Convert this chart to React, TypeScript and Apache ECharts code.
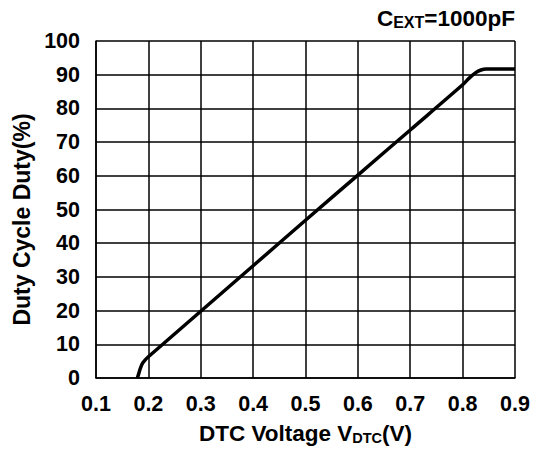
import React, { useEffect, useRef } from "react";
import * as echarts from "echarts";

const voltage = [0.179, 0.182, 0.185, 0.189, 0.194, 0.2, 0.3, 0.4, 0.5, 0.6, 0.7, 0.8, 0.812, 0.825, 0.835, 0.845, 0.86, 0.9];
const duty = [0, 1.5, 3.0, 4.4, 5.4, 6.3, 19.8, 33.3, 46.8, 60.2, 73.6, 87.0, 88.9, 90.6, 91.4, 91.7, 91.7, 91.7];
const xTicks = { min: 0.1, max: 0.9, interval: 0.1 };
const yTicks = { min: 0, max: 100, interval: 10 };

const FONT = "'Liberation Sans', Arial, sans-serif";

export default function App() {
  const ref = useRef<HTMLDivElement>(null);
  useEffect(() => {
    document.body.style.margin = "0";
    const chart = echarts.init(ref.current!, null, { renderer: "svg" });
    chart.setOption({
      animation: false,
      backgroundColor: "#ffffff",
      grid: { left: 96, right: 22, top: 41, bottom: 74 },
      graphic: [
        {
          type: "text",
          right: 22,
          top: 7,
          style: {
            text: "{a|C}{b|EXT}{a|=1000pF}",
            rich: {
              a: { fontFamily: FONT, fontWeight: "bold", fontSize: 22.5, fill: "#000", verticalAlign: "bottom" },
              b: { fontFamily: FONT, fontWeight: "bold", fontSize: 16, fill: "#000", verticalAlign: "bottom" },
            },
          },
        },
      ],
      xAxis: {
        type: "value",
        min: xTicks.min,
        max: xTicks.max,
        interval: xTicks.interval,
        name: "{a|DTC Voltage V}{b|DTC}{a|(V)}",
        nameLocation: "middle",
        nameGap: 44,
        nameTextStyle: {
          rich: {
            a: { fontFamily: FONT, fontWeight: "bold", fontSize: 22.5, color: "#000", verticalAlign: "bottom" },
            b: { fontFamily: FONT, fontWeight: "bold", fontSize: 14.5, color: "#000", verticalAlign: "bottom" },
          },
        },
        axisLine: { show: true, lineStyle: { color: "#000", width: 1.5 } },
        axisTick: { show: false },
        axisLabel: {
          margin: 15,
          fontFamily: FONT,
          fontWeight: "bold",
          fontSize: 21.5,
          color: "#000",
          formatter: (v: number) => v.toFixed(1),
        },
        splitLine: { show: true, lineStyle: { color: "#000", width: 1.5 } },
      },
      yAxis: {
        type: "value",
        min: yTicks.min,
        max: yTicks.max,
        interval: yTicks.interval,
        name: "Duty Cycle Duty(%)",
        nameLocation: "middle",
        nameGap: 49,
        nameTextStyle: {
          fontFamily: FONT,
          fontWeight: "bold",
          fontSize: 23,
          color: "#000",
          padding: [0, 20, 0, 0],
        },
        axisLine: { show: true, lineStyle: { color: "#000", width: 1.5 } },
        axisTick: { show: false },
        axisLabel: { margin: 16, fontFamily: FONT, fontWeight: "bold", fontSize: 21.5, color: "#000" },
        splitLine: { show: true, lineStyle: { color: "#000", width: 1.5 } },
      },
      series: [
        {
          type: "line",
          data: voltage.map((v, i) => [v, duty[i]]),
          showSymbol: false,
          smooth: 0.3,
          lineStyle: { color: "#000", width: 3.5 },
        },
      ],
    });
    return () => chart.dispose();
  }, []);
  return <div ref={ref} style={{ width: 537, height: 452 }} />;
}
